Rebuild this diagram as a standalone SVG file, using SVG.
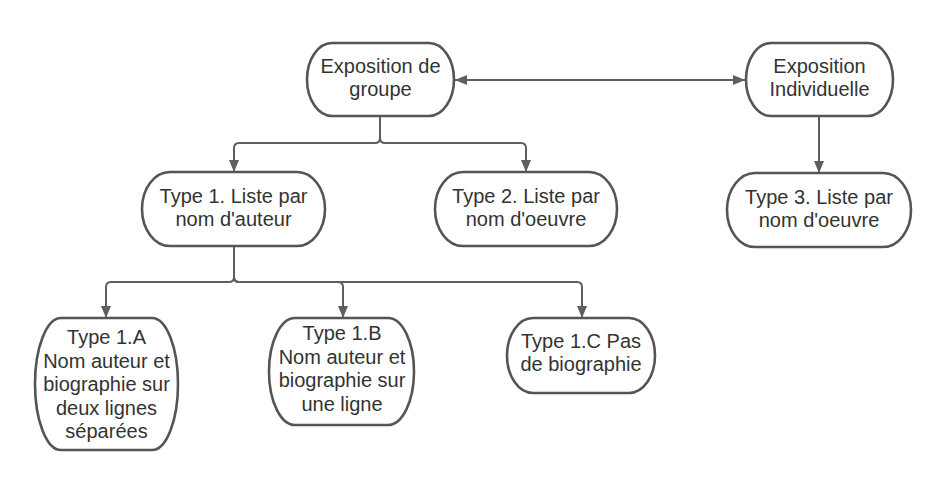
<svg xmlns="http://www.w3.org/2000/svg" width="946" height="480" viewBox="0 0 946 480">
<defs>
<style>
.box{fill:#ffffff;stroke:#555555;stroke-width:2.6}
.lbl{font-family:"Liberation Sans",Arial,sans-serif;font-size:20px;fill:#333333;text-anchor:middle}
.con{fill:none;stroke:#5e5e5e;stroke-width:2}
</style>
<marker id="ah" viewBox="0 0 12 10" refX="12" refY="5" markerWidth="12" markerHeight="10" markerUnits="userSpaceOnUse" orient="auto-start-reverse">
<path d="M0,0 L12,5 L0,10 z" fill="#5e5e5e"/>
</marker>
</defs>
<rect width="946" height="480" fill="#ffffff"/>
<g id="connectors">
<path class="con" d="M455,80 H745" marker-start="url(#ah)" marker-end="url(#ah)"/>
<path class="con" d="M380,116 V138 Q380,143 375,143 H239 Q234,143 234,148 V172" marker-end="url(#ah)"/>
<path class="con" d="M380,116 V138 Q380,143 385,143 H521 Q526,143 526,148 V172" marker-end="url(#ah)"/>
<path class="con" d="M819,116 V173" marker-end="url(#ah)"/>
<path class="con" d="M234,246 V277 Q234,282 229,282 H111 Q106,282 106,287 V318" marker-end="url(#ah)"/>
<path class="con" d="M234,246 V277 Q234,282 239,282 H338 Q343,282 343,287 V318" marker-end="url(#ah)"/>
<path class="con" d="M234,246 V277 Q234,282 239,282 H577 Q582,282 582,287 V318" marker-end="url(#ah)"/>
</g>
<g id="n-groupe">
<rect class="box" x="307" y="43" width="147" height="73" rx="25" ry="36.5"/>
<text class="lbl" x="380.5" y="72.5">Exposition de</text>
<text class="lbl" x="380.5" y="95.5">groupe</text>
</g>
<g id="n-indiv">
<rect class="box" x="746" y="43" width="147" height="73" rx="25" ry="36.5"/>
<text class="lbl" x="819.5" y="72.5">Exposition</text>
<text class="lbl" x="819.5" y="96">Individuelle</text>
</g>
<g id="n-type1">
<rect class="box" x="142" y="172" width="183" height="74" rx="28" ry="37"/>
<text class="lbl" x="233.5" y="202.5">Type 1. Liste par</text>
<text class="lbl" x="233.5" y="225.5">nom d'auteur</text>
</g>
<g id="n-type2">
<rect class="box" x="435" y="172" width="182" height="74" rx="28" ry="37"/>
<text class="lbl" x="526" y="202.5">Type 2. Liste par</text>
<text class="lbl" x="526" y="225.5">nom d'oeuvre</text>
</g>
<g id="n-type3">
<rect class="box" x="727" y="173" width="184" height="74" rx="28" ry="37"/>
<text class="lbl" x="819" y="203.5">Type 3. Liste par</text>
<text class="lbl" x="819" y="226.5">nom d'oeuvre</text>
</g>
<g id="n-type1a">
<rect class="box" x="35" y="318" width="143" height="132" rx="26" ry="66"/>
<text class="lbl" x="106.5" y="344">Type 1.A</text>
<text class="lbl" x="106.5" y="367.5">Nom auteur et</text>
<text class="lbl" x="106.5" y="391">biographie sur</text>
<text class="lbl" x="106.5" y="414.5">deux lignes</text>
<text class="lbl" x="106.5" y="438">séparées</text>
</g>
<g id="n-type1b">
<rect class="box" x="269" y="318" width="145" height="107" rx="26" ry="53.5"/>
<text class="lbl" x="342" y="340">Type 1.B</text>
<text class="lbl" x="342" y="363.5">Nom auteur et</text>
<text class="lbl" x="342" y="387">biographie sur</text>
<text class="lbl" x="342" y="410.5">une ligne</text>
</g>
<g id="n-type1c">
<rect class="box" x="507" y="318" width="148" height="75" rx="26" ry="37.5"/>
<text class="lbl" x="581" y="347.5">Type 1.C Pas</text>
<text class="lbl" x="581" y="370.5">de biographie</text>
</g>
</svg>
